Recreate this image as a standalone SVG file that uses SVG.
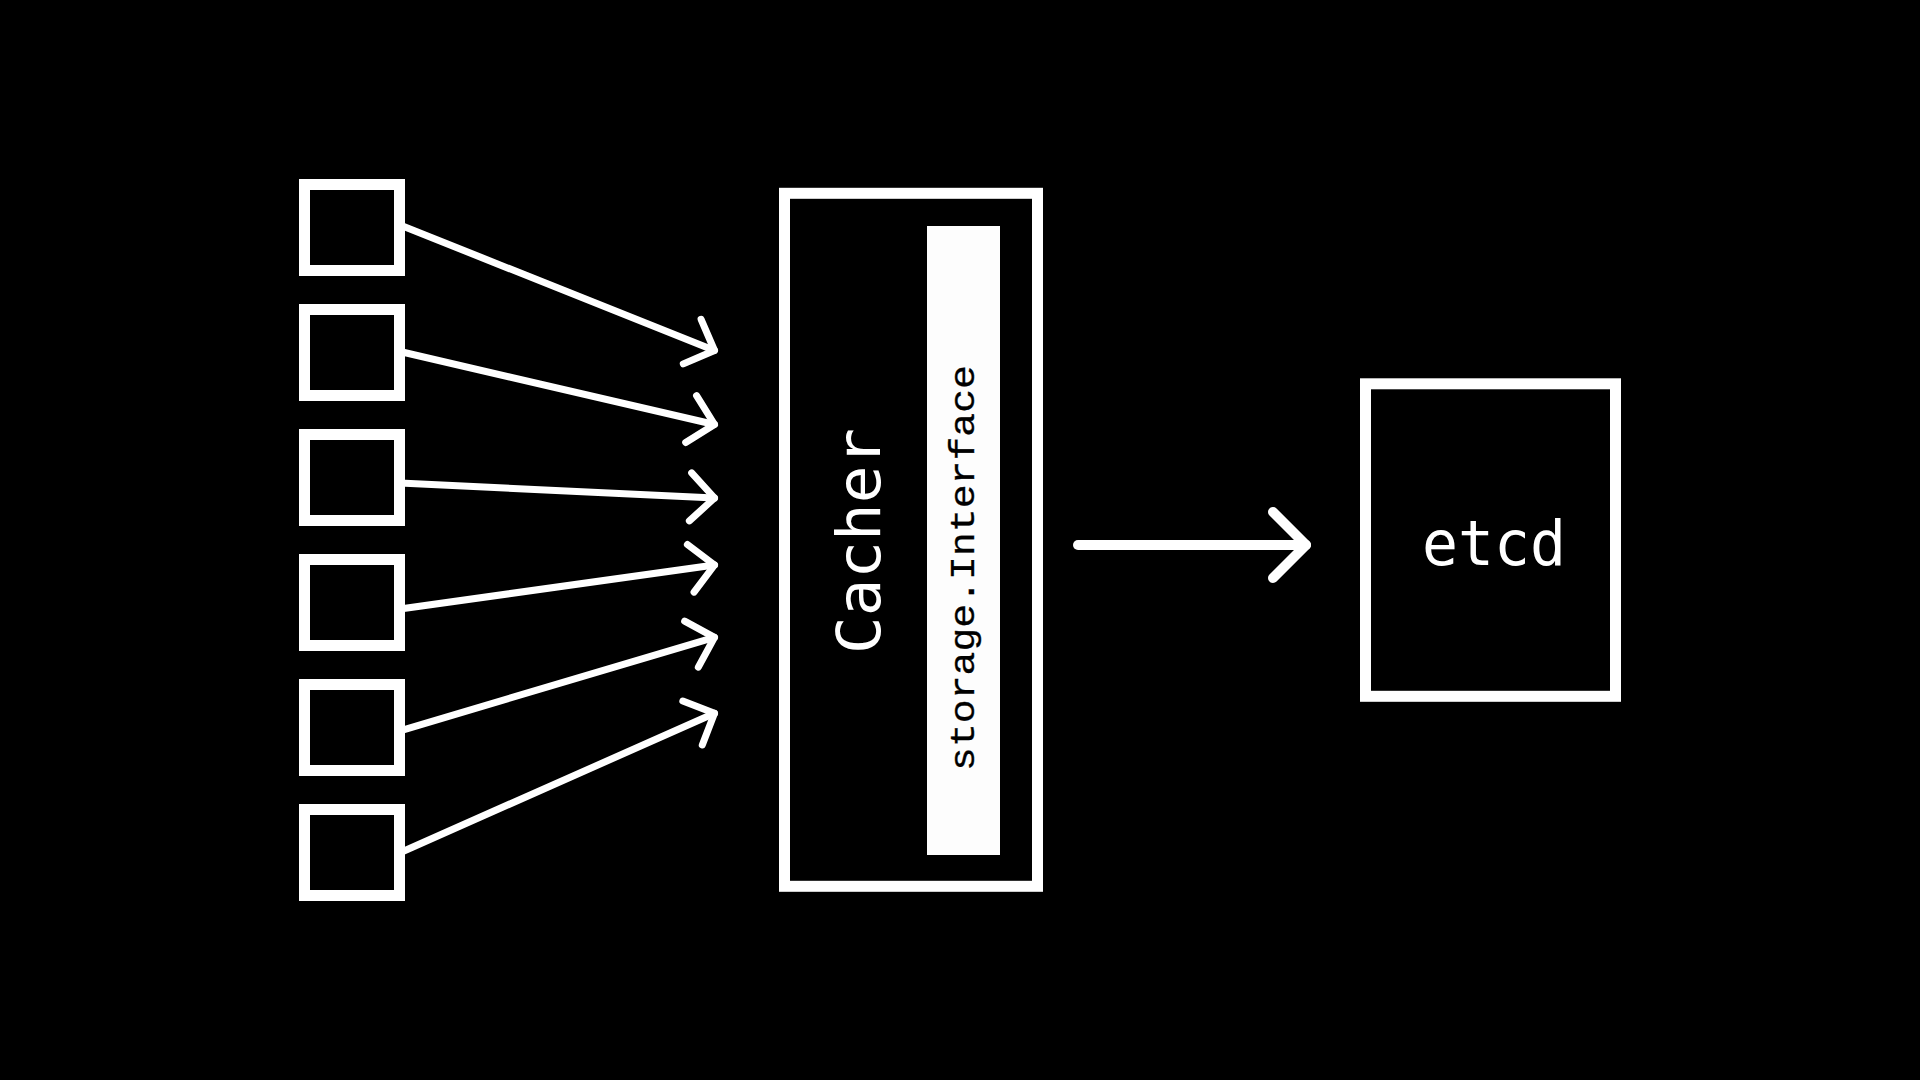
<svg xmlns="http://www.w3.org/2000/svg" width="1920" height="1080" viewBox="0 0 1920 1080">
  <style>
    .box { fill: #000; stroke: #fff; stroke-width: 11; }
    .conn { fill: none; stroke: #fff; stroke-width: 7; stroke-linecap: round; marker-end: url(#ah); }
    .label { fill: #fff; font-family: "DejaVu Sans Mono", "Liberation Mono", monospace; }
  </style>
  <defs>
    <marker id="ah" markerUnits="userSpaceOnUse" orient="auto" overflow="visible" markerWidth="1" markerHeight="1" refX="0" refY="0">
      <path d="M-24,-24 L0,0 L-24,24" fill="none" stroke="#fff" stroke-width="7" stroke-linecap="round" stroke-linejoin="round"/>
    </marker>
  </defs>
  <rect x="0" y="0" width="1920" height="1080" fill="#000"/>

  <g id="connectors">
    <line class="conn" x1="400" y1="225" x2="714.5" y2="350.5"/>
    <line class="conn" x1="400" y1="351.5" x2="714.5" y2="424.5"/>
    <line class="conn" x1="400" y1="483" x2="714.5" y2="498"/>
    <line class="conn" x1="400" y1="609" x2="714.5" y2="565"/>
    <line class="conn" x1="400" y1="730.8" x2="714.5" y2="637.3"/>
    <line class="conn" x1="400" y1="852.7" x2="714.5" y2="713.3"/>
    <g id="arrow-etcd" fill="none" stroke="#fff" stroke-width="10" stroke-linecap="round" stroke-linejoin="round">
      <line x1="1078" y1="545" x2="1306" y2="545"/>
      <path d="M1273,512 L1306,545 L1273,578"/>
    </g>
  </g>

  <g id="client1"><rect class="box" x="304.5" y="184.5" width="95" height="86"/></g>
  <g id="client2"><rect class="box" x="304.5" y="309.5" width="95" height="86"/></g>
  <g id="client3"><rect class="box" x="304.5" y="434.5" width="95" height="86"/></g>
  <g id="client4"><rect class="box" x="304.5" y="559.5" width="95" height="86"/></g>
  <g id="client5"><rect class="box" x="304.5" y="684.5" width="95" height="86"/></g>
  <g id="client6"><rect class="box" x="304.5" y="809.5" width="95" height="86"/></g>

  <g id="cacher">
    <rect class="box" x="784.5" y="193.3" width="253" height="693"/>
    <text class="label" x="0" y="0" font-size="61" text-anchor="middle" transform="translate(880 541) rotate(-90)" textLength="226" lengthAdjust="spacingAndGlyphs">Cacher</text>
    <g id="storage-interface">
      <rect x="927" y="226" width="73" height="629" fill="#fdfdfd"/>
      <text x="0" y="0" font-family="'Liberation Mono', 'DejaVu Sans Mono', monospace" font-size="35" fill="#000" stroke="#000" stroke-width="0.3" text-anchor="middle" transform="translate(974 568) rotate(-90)" textLength="406" lengthAdjust="spacingAndGlyphs">storage.Interface</text>
    </g>
  </g>

  <g id="etcd">
    <rect class="box" x="1365.5" y="383.8" width="250" height="312.5"/>
    <text class="label" x="1494" y="565" font-size="63" text-anchor="middle" textLength="144" lengthAdjust="spacingAndGlyphs">etcd</text>
  </g>
</svg>
